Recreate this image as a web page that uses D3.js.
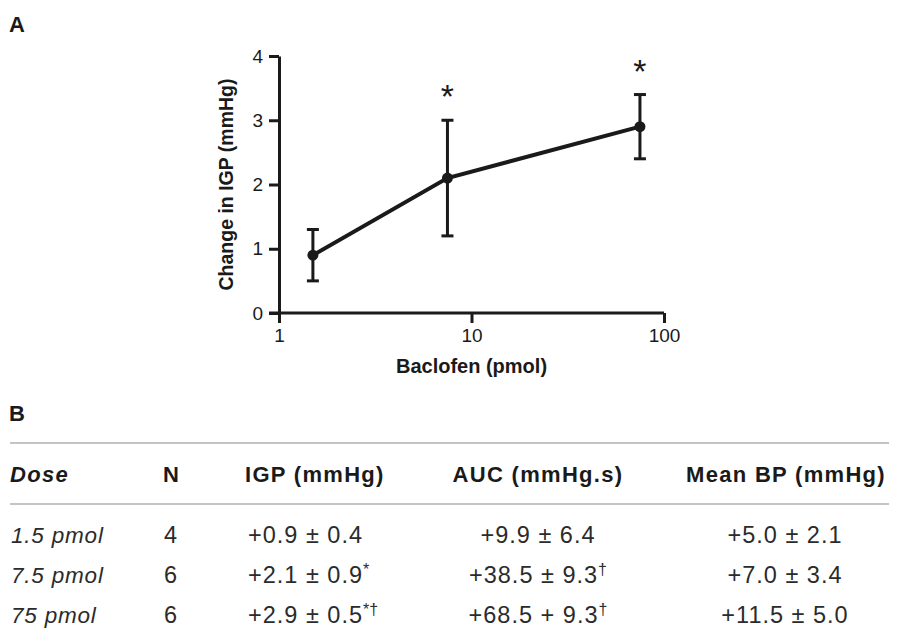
<!DOCTYPE html>
<html>
<head>
<meta charset="utf-8">
<script src="https://cdn.jsdelivr.net/npm/d3@7"></script>
<style>
  body { margin: 0; background: #fff; }
  svg { display: block; font-family: "Liberation Sans", Arial, sans-serif; }
</style>
</head>
<body>
<svg id="fig" width="900" height="641"></svg>
<script>
// Panel A data: baclofen dose vs change in IGP (mean +/- SEM)
const doseValues = [1.5, 7.5, 75];
const igpMean = [0.9, 2.1, 2.9];
const igpSem = [0.4, 0.9, 0.5];
const significant = [false, true, true];
const xTicks = [1, 10, 100];
const yTicks = [0, 1, 2, 3, 4];

// Panel B table
const doseLabels = ["1.5 pmol", "7.5 pmol", "75 pmol"];
const nValues = [4, 6, 6];
const igpMarks = ["", "*", "*\u2020"];
const aucMean = [9.9, 38.5, 68.5];
const aucSem = [6.4, 9.3, 9.3];
const aucSign = ["\u00b1", "\u00b1", "+"];
const aucMarks = ["", "\u2020", "\u2020"];
const bpMean = [5.0, 7.0, 11.5];
const bpSem = [2.1, 3.4, 5.0];
const headers = ["Dose", "N", "IGP (mmHg)", "AUC (mmHg.s)", "Mean BP (mmHg)"];

const svg = d3.select("#fig");
const ink = "#1a1a1a";

// panel letters
svg.append("text").attr("x", 9).attr("y", 32)
    .attr("font-size", 22).attr("font-weight", "bold").attr("fill", ink).text("A");
svg.append("text").attr("x", 9).attr("y", 421)
    .attr("font-size", 22).attr("font-weight", "bold").attr("fill", ink).text("B");

// ---- chart ----
const x = d3.scaleLog().domain([1, 100]).range([279, 664]);
const y = d3.scaleLinear().domain([0, 4]).range([313, 56]);

const xAxis = svg.append("g")
    .attr("transform", "translate(0,313)")
    .call(d3.axisBottom(x).tickValues(xTicks).tickFormat(d3.format("d"))
        .tickSize(10).tickSizeOuter(0).tickPadding(6));

const yAxis = svg.append("g")
    .attr("transform", "translate(279,0)")
    .call(d3.axisLeft(y).tickValues(yTicks).tickFormat(d3.format("d"))
        .tickSize(10).tickSizeOuter(0).tickPadding(6));

[xAxis, yAxis].forEach(g => {
    g.select(".domain").attr("stroke", ink).attr("stroke-width", 3);
    g.selectAll(".tick line").attr("stroke", ink).attr("stroke-width", 3);
    g.selectAll(".tick text").attr("font-size", 19).attr("fill", ink)
        .attr("font-family", "Liberation Sans, Arial, sans-serif");
});
// extend the x domain line over the y-axis tick at 0
xAxis.select(".domain").attr("d", `M${x(1) - 10},0H${x(100)}`);

svg.append("text")
    .attr("x", x(10)).attr("y", 373)
    .attr("text-anchor", "middle").attr("font-size", 20).attr("font-weight", "bold")
    .attr("fill", ink).text("Baclofen (pmol)");

svg.append("text")
    .attr("transform", `translate(233,${(y(0) + y(4)) / 2}) rotate(-90)`)
    .attr("text-anchor", "middle").attr("font-size", 19.5).attr("font-weight", "bold")
    .attr("fill", ink).text("Change in IGP (mmHg)");

const pts = doseValues.map((d, i) => ({ dose: d, mean: igpMean[i], sem: igpSem[i], sig: significant[i] }));

// error bars
const eb = svg.append("g").attr("stroke", ink).attr("stroke-width", 3);
pts.forEach(p => {
    const cx = x(p.dose), lo = y(p.mean - p.sem), hi = y(p.mean + p.sem);
    eb.append("line").attr("x1", cx).attr("x2", cx).attr("y1", lo).attr("y2", hi);
    eb.append("line").attr("x1", cx - 6).attr("x2", cx + 6).attr("y1", lo).attr("y2", lo);
    eb.append("line").attr("x1", cx - 6).attr("x2", cx + 6).attr("y1", hi).attr("y2", hi);
});

svg.append("path")
    .datum(pts)
    .attr("fill", "none").attr("stroke", ink).attr("stroke-width", 4)
    .attr("d", d3.line().x(d => x(d.dose)).y(d => y(d.mean)));

svg.selectAll("circle.pt").data(pts).enter().append("circle")
    .attr("class", "pt")
    .attr("cx", d => x(d.dose)).attr("cy", d => y(d.mean)).attr("r", 5.5)
    .attr("fill", ink);

svg.selectAll("text.sig").data(pts.filter(p => p.sig)).enter().append("text")
    .attr("class", "sig")
    .attr("x", d => x(d.dose)).attr("y", d => y(d.mean + d.sem) - 12)
    .attr("text-anchor", "middle").attr("font-size", 34).attr("fill", ink)
    .text("*");

// ---- table ----
const rule = "#c4c4c4";
svg.append("line").attr("x1", 10).attr("x2", 889).attr("y1", 443).attr("y2", 443)
    .attr("stroke", rule).attr("stroke-width", 2);
svg.append("line").attr("x1", 10).attr("x2", 889).attr("y1", 504).attr("y2", 504)
    .attr("stroke", rule).attr("stroke-width", 2);

const cols = [
    { x: 10, anchor: "start" },
    { x: 163, anchor: "start" },
    { x: 245, anchor: "start" },
    { x: 538, anchor: "middle" },
    { x: 786, anchor: "middle" }
];

headers.forEach((h, i) => {
    svg.append("text")
        .attr("x", cols[i].x).attr("y", 482)
        .attr("text-anchor", cols[i].anchor)
        .attr("font-size", 22).attr("font-weight", "bold")
        .attr("font-style", i === 0 ? "italic" : "normal")
        .attr("letter-spacing", 1.3).attr("fill", ink)
        .text(h);
});

const rowY = [543, 583, 623];
const cellFont = 23.5, cellSpacing = 1;
const cellInk = "#2b2b2b";

function valueCell(cx, cy, anchor, main, marks) {
    const t = svg.append("text")
        .attr("x", cx).attr("y", cy).attr("text-anchor", anchor)
        .attr("font-size", cellFont).attr("letter-spacing", cellSpacing)
        .attr("fill", cellInk);
    t.append("tspan").text(main);
    if (marks) {
        t.append("tspan").attr("font-size", 16).attr("dy", -8)
            .attr("letter-spacing", 0).text(marks);
    }
    return t;
}

doseLabels.forEach((d, i) => {
    const cy = rowY[i];
    svg.append("text").attr("x", 11).attr("y", cy)
        .attr("font-size", 22.5).attr("font-style", "italic")
        .attr("letter-spacing", 0.8).attr("fill", cellInk).text(d);
    svg.append("text").attr("x", 164).attr("y", cy)
        .attr("font-size", cellFont).attr("fill", cellInk).text(nValues[i]);
    valueCell(248, cy, "start", `+${igpMean[i].toFixed(1)} \u00b1 ${igpSem[i].toFixed(1)}`, igpMarks[i]);
    valueCell(538, cy, "middle", `+${aucMean[i].toFixed(1)} ${aucSign[i]} ${aucSem[i].toFixed(1)}`, aucMarks[i]);
    valueCell(785, cy, "middle", `+${bpMean[i].toFixed(1)} \u00b1 ${bpSem[i].toFixed(1)}`, "");
});
</script>
</body>
</html>
